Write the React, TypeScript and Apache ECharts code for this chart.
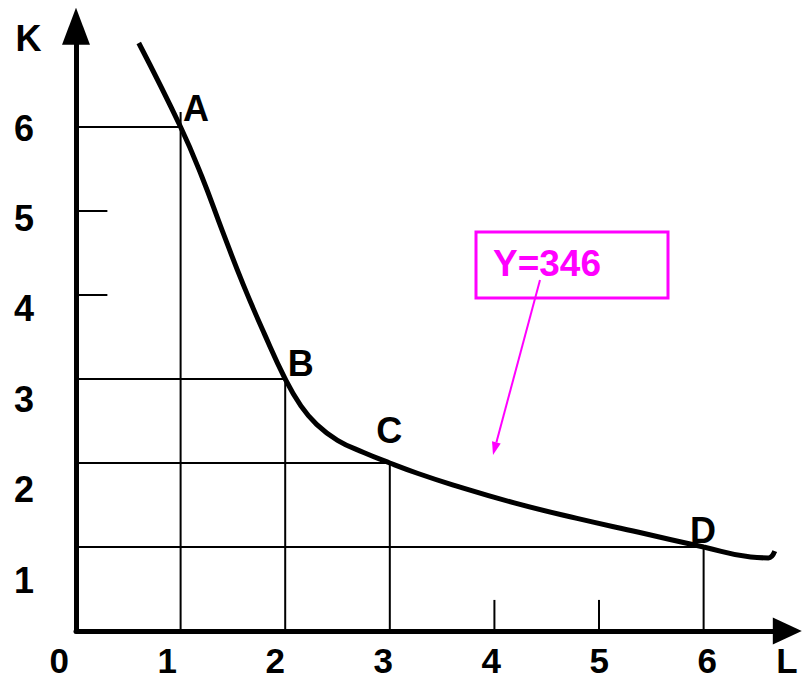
import React, { useEffect, useRef } from 'react';
import * as echarts from 'echarts';

// ---- data ----
const pointNames = ['A', 'B', 'C', 'D'];
const pointL = [1, 2, 3, 6];
const pointK = [6, 3, 2, 1];
const guideTopK = [6.18, 3, 2, 1];
const curveL = [0.6, 1, 1.2, 1.4, 1.6, 1.8, 2, 2.15, 2.3, 2.5, 2.75, 3, 3.27, 3.6, 4.19, 4.79, 5.38, 6, 6.45, 6.62, 6.68];
const curveK = [7.0, 6, 5.42, 4.76, 4.12, 3.54, 3, 2.68, 2.46, 2.27, 2.125, 2, 1.875, 1.74, 1.525, 1.34, 1.175, 1, 0.88, 0.87, 0.95];
const xTickLabels = ['0', '1', '2', '3', '4', '5', '6'];
const yTickLabels = ['1', '2', '3', '4', '5', '6'];
const minorTicks = [4, 5];
const isoquantLabel = 'Y=346';
const xName = 'L';
const yName = 'K';

const FONT = '"Liberation Sans", Arial, sans-serif';
const MAGENTA = '#FF00FF';
const labelOffsets: [number, number][] = [[15.5, -18.5], [15.5, -16], [-0.5, -32.5], [-0.5, -17]];

export default function App() {
  const ref = useRef<HTMLDivElement>(null);
  useEffect(() => {
    if (!ref.current) return;
    const chart = echarts.init(ref.current, undefined, { renderer: 'svg' });
    const thin = { color: '#000', width: 2 };
    const series: any[] = [];
    pointL.forEach((L, i) => {
      series.push({
        type: 'line', xAxisIndex: 0, yAxisIndex: 0, symbol: 'none', silent: true, z: 2,
        lineStyle: thin,
        data: [[0, pointK[i]], [L, pointK[i]], [L, guideTopK[i]], [L, 0]],
      });
    });
    minorTicks.forEach((t) => {
      series.push({ type: 'line', symbol: 'none', z: 2, lineStyle: thin, data: [[t, 0], [t, 0.37]] });
      series.push({ type: 'line', symbol: 'none', z: 2, lineStyle: thin, data: [[0, t], [0.3, t]] });
    });
    series.push({
      type: 'line', symbol: 'none', smooth: 0.45, z: 5,
      lineStyle: { color: '#000', width: 5 },
      data: curveL.map((l, i) => [l, curveK[i]]),
    });
    series.push({
      type: 'scatter', symbolSize: 0, z: 6, silent: true,
      itemStyle: { opacity: 1, color: '#000' },
      data: pointL.map((l, i) => ({
        value: [l, pointK[i]], name: pointNames[i],
        label: {
          show: true, position: 'inside', offset: labelOffsets[i], formatter: pointNames[i],
          fontSize: 36, fontWeight: 'bold', fontFamily: FONT, color: '#000', opacity: 1,
          textBorderWidth: 0,
        },
      })),
    });

    const labelStyle = { fontSize: 36, fontWeight: 'bold', fontFamily: FONT, color: '#000' };
    const tipX = 540, tipY0 = 280, tipX1 = 493, tipY1 = 455;
    const dx = tipX1 - tipX, dy = tipY1 - tipY0;
    const len = Math.sqrt(dx * dx + dy * dy);
    const ux = dx / len, uy = dy / len;
    const bx = tipX1 - 13 * ux, by = tipY1 - 13 * uy;
    const px = -uy, py = ux;
    const textStyle = (size: number) => ({ fill: '#000', font: `bold ${size}px ${FONT}`, textAlign: 'center', textVerticalAlign: 'middle', lineHeight: 28 });

    chart.setOption({
      animation: false,
      grid: [
        { left: 76, right: 14.7, top: 26.2, bottom: 47 },
        { left: 59.3, right: 94.7, top: 128, bottom: 7.6 },
      ],
      xAxis: [
        {
          gridIndex: 0, type: 'value', min: 0, max: 6.8,
          axisLine: { show: true, onZero: false, symbol: ['none', 'triangle'], symbolSize: [27, 29], lineStyle: { color: '#000', width: 5 } },
          axisTick: { show: false }, axisLabel: { show: false }, splitLine: { show: false },
        },
        {
          gridIndex: 1, type: 'value', min: 0, max: 6, interval: 1,
          axisLine: { show: false }, axisTick: { show: false }, splitLine: { show: false },
          axisLabel: { show: true, margin: -10.4, verticalAlign: 'middle', lineHeight: 28, ...labelStyle, fontSize: 35, formatter: (v: number) => xTickLabels[Math.round(v)] ?? '' },
        },
      ],
      yAxis: [
        {
          gridIndex: 0, type: 'value', min: 0, max: 7.2,
          axisLine: { show: true, onZero: false, symbol: ['none', 'triangle'], symbolSize: [28, 37], lineStyle: { color: '#000', width: 5 } },
          axisTick: { show: false }, axisLabel: { show: false }, splitLine: { show: false },
        },
        {
          gridIndex: 1, type: 'value', min: 0, max: 6, interval: 1,
          axisLine: { show: false }, axisTick: { show: false }, splitLine: { show: false },
          axisLabel: { show: true, margin: 35.3, align: 'center', verticalAlign: 'middle', ...labelStyle, formatter: (v: number) => (Math.round(v) >= 1 ? yTickLabels[Math.round(v) - 1] : '') },
        },
      ],
      graphic: [
        { type: 'text', x: 28.5, y: 38.5, style: { text: yName, ...textStyle(36) } },
        { type: 'text', x: 787, y: 660, style: { text: xName, ...textStyle(35) } },
        { type: 'rect', shape: { x: 476, y: 232, width: 192, height: 66 }, style: { fill: 'none', stroke: MAGENTA, lineWidth: 3 } },
        { type: 'text', x: 493, y: 263, style: { text: isoquantLabel, fill: MAGENTA, font: `bold 37px ${FONT}`, textAlign: 'left', textVerticalAlign: 'middle' } },
        { type: 'line', shape: { x1: tipX, y1: tipY0, x2: bx, y2: by }, style: { stroke: MAGENTA, lineWidth: 2 } },
        { type: 'polygon', shape: { points: [[tipX1, tipY1], [bx + 4.5 * px, by + 4.5 * py], [bx - 4.5 * px, by - 4.5 * py]] }, style: { fill: MAGENTA } },
      ],
      series,
    });
    return () => chart.dispose();
  }, []);
  return <div ref={ref} style={{ position: 'fixed', left: 0, top: 0, width: 802, height: 678, background: '#fff' }} />;
}
